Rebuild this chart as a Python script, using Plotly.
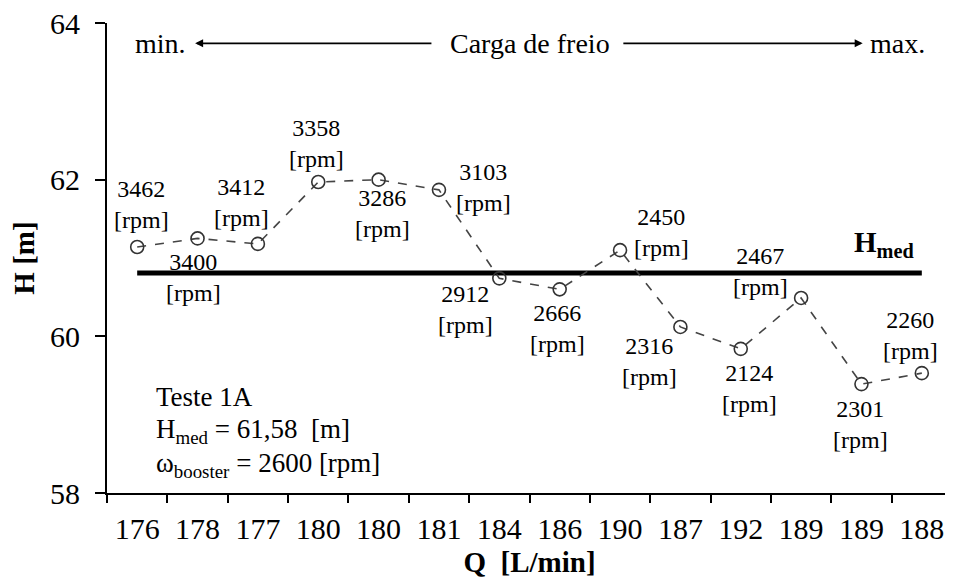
import plotly.graph_objects as go

# Q [L/min] per ponto (categorias, com repetidos)
q_labels = ["176", "178", "177", "180", "180", "181", "184", "186", "190", "187", "192", "189", "189", "188"]
h_values = [61.14, 61.25, 61.18, 61.97, 62.00, 61.87, 60.74, 60.60, 61.10, 60.12, 59.84, 60.49, 59.39, 59.53]
rpm_values = [3462, 3400, 3412, 3358, 3286, 3103, 2912, 2666, 2450, 2316, 2124, 2467, 2301, 2260]
h_med_line = 60.81
y_ticks = [58, 60, 62, 64]

# deslocamento (px) dos rótulos de rotação em relação a cada ponto
label_offsets = [(4, 43), (-4, -39), (-16, 41), (-2, 39), (4, -34), (45, 2), (-34, -31),
                 (-2, -39), (41, 18), (-31, -35), (9, -40), (-41, 26), (-1, -40), (-11, 38)]

FONT = "Liberation Serif, Times New Roman, serif"
x_idx = list(range(len(q_labels)))
boundaries = [i - 0.5 for i in range(len(q_labels) + 1)]

fig = go.Figure()

fig.add_trace(go.Scatter(
    x=[x_idx[0], x_idx[-1]], y=[h_med_line, h_med_line], mode="lines",
    line=dict(color="black", width=5), showlegend=False, hoverinfo="skip"))

fig.add_trace(go.Scatter(
    x=x_idx, y=h_values, mode="lines+markers",
    line=dict(color="#444", width=1.6, dash="dash"),
    marker=dict(symbol="circle-open", size=13, color="#333", line=dict(width=1.6)),
    showlegend=False))

annotations = []
for i, (h, rpm) in enumerate(zip(h_values, rpm_values)):
    dx, dy = label_offsets[i]
    annotations.append(dict(
        x=i, y=h, text=f"{rpm}<br>[rpm]", showarrow=False, xshift=dx, yshift=dy,
        font=dict(family=FONT, size=24, color="black"), align="center"))

# Seta "Carga de freio"
top_y = 63.74
annotations += [
    dict(x=0.38, y=top_y, text="min.", showarrow=False, font=dict(family=FONT, size=28, color="black")),
    dict(x=6.51, y=top_y, text="Carga de freio", showarrow=False, font=dict(family=FONT, size=28, color="black")),
    dict(x=12.6, y=top_y, text="max.", showarrow=False, font=dict(family=FONT, size=28, color="black")),
    dict(x=0.96, y=top_y, ax=4.9, ay=top_y, axref="x", ayref="y", text="", showarrow=True,
         arrowhead=2, arrowsize=1, arrowwidth=1.6, arrowcolor="black", standoff=0),
    dict(x=12.02, y=top_y, ax=8.03, ay=top_y, axref="x", ayref="y", text="", showarrow=True,
         arrowhead=2, arrowsize=1, arrowwidth=1.6, arrowcolor="black", standoff=0),
    dict(x=12.37, y=h_med_line, text="<b>H<sub>med</sub></b>", showarrow=False, yanchor="bottom",
         yshift=9, font=dict(family=FONT, size=29, color="black")),
]

# Bloco de texto inferior esquerdo
info_lines = ["Teste 1A", "H<sub>med</sub> = 61,58&nbsp; [m]", "ω<sub>booster</sub> = 2600 [rpm]"]
for k, line in enumerate(info_lines):
    annotations.append(dict(
        x=0.28, y=59.23, text=line, showarrow=False, xanchor="left", yshift=-34 * k,
        font=dict(family=FONT, size=27, color="black"), align="left"))

# a página html tem 8 px de margem no body: compensado nas margens
fig.update_layout(
    width=953, height=580,
    margin=dict(l=99, r=9, t=15, b=95),
    plot_bgcolor="white", paper_bgcolor="white",
    font=dict(family=FONT, color="black"),
    annotations=annotations,
    xaxis=dict(
        tickmode="array", tickvals=x_idx, ticktext=q_labels,
        range=[-0.5, len(q_labels) - 0.5], automargin=False, ticklabeloverflow="allow",
        showline=True, linecolor="black", linewidth=2, ticks="outside", ticklen=8,
        tickwidth=1.5, tickcolor="rgba(0,0,0,0)", showgrid=False, zeroline=False,
        minor=dict(tickmode="array", tickvals=boundaries, ticks="outside", ticklen=8,
                   tickwidth=1.5, tickcolor="black", showgrid=False),
        tickfont=dict(family=FONT, size=30, color="black"),
        title=dict(text="<b>Q&nbsp; [L/min]</b>", font=dict(family=FONT, size=29, color="black"), standoff=8)),
    yaxis=dict(
        range=[58, 64], tickvals=y_ticks, showline=True, linecolor="black", linewidth=2,
        automargin=False, ticklabeloverflow="allow", ticks="outside", ticklen=10,
        tickwidth=1.5, tickcolor="black", ticklabelstandoff=9,
        showgrid=False, zeroline=False, tickfont=dict(family=FONT, size=30, color="black"),
        title=dict(text="<b>H [m]</b>", font=dict(family=FONT, size=29, color="black"), standoff=8)),
)

fig.write_html("out.html")
